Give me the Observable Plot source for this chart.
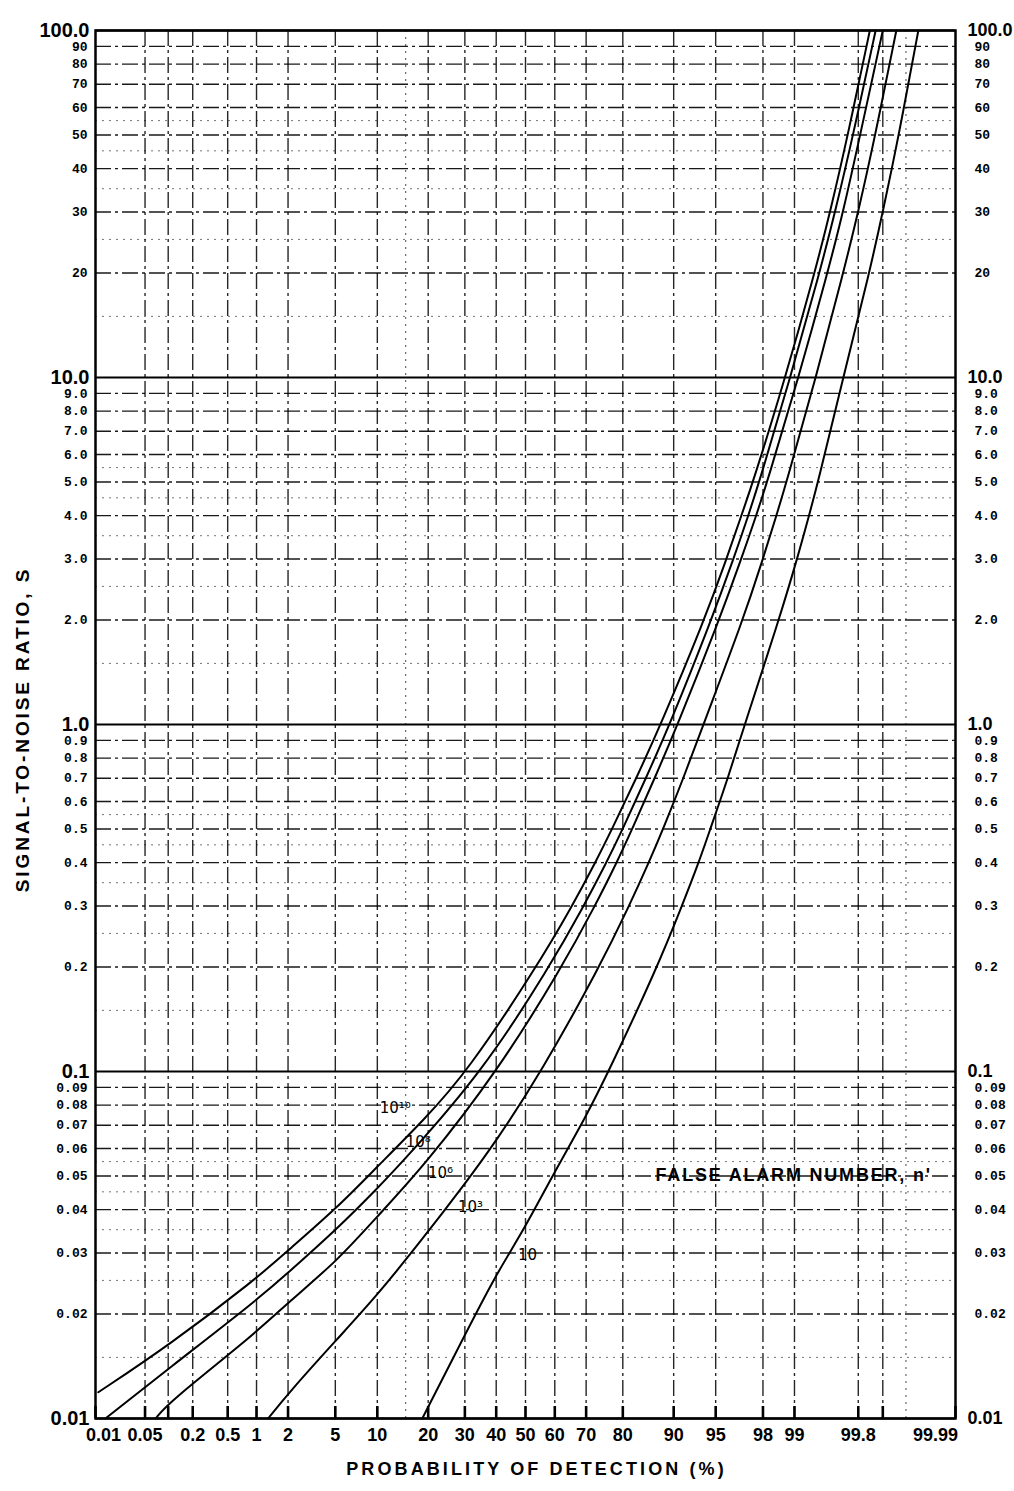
<!DOCTYPE html>
<html>
<head>
<meta charset="utf-8">
<script src="https://cdn.jsdelivr.net/npm/d3@7"></script>
<script src="https://cdn.jsdelivr.net/npm/@observablehq/plot@0.6"></script>
<style>
  html, body { margin: 0; padding: 0; background: #fff; }
  #chart svg { display: block; }
</style>
</head>
<body>
<div id="chart"></div>
<script>
// ---------------- DATA ----------------
// Curve: false alarm number n' = 10^10
const pd1e10 = [0.011, 0.10, 1.0, 2.0, 5.2, 9.7, 18.9, 30.8, 53.8, 65.7, 72.7, 77.3, 83.1, 87.9, 93.9, 95.9, 96.9, 97.55, 98.77, 99.38, 99.58, 99.735, 99.855];
const s1e10  = [0.0119, 0.0162, 0.0253, 0.0305, 0.0406, 0.0525, 0.0723, 0.1, 0.2, 0.3, 0.4, 0.5, 0.7, 1, 2, 3, 4, 5, 10, 20, 30, 50, 100];
// n' = 10^8
const pd1e8 = [0.014, 0.10, 1.0, 2.0, 5.2, 9.7, 15.0, 35.5, 58.2, 69.3, 75.8, 80.0, 85.1, 89.4, 94.6, 96.4, 97.3, 97.84, 98.90, 99.45, 99.63, 99.77, 99.877];
const s1e8  = [0.01, 0.0139, 0.0219, 0.0263, 0.0353, 0.0454, 0.0561, 0.1, 0.2, 0.3, 0.4, 0.5, 0.7, 1, 2, 3, 4, 5, 10, 20, 30, 50, 100];
// n' = 10^6
const pd1e6 = [0.069, 0.10, 1.0, 2.0, 5.2, 9.7, 18.9, 40.4, 62.4, 72.6, 78.5, 82.2, 86.8, 90.6, 95.3, 96.9, 97.7, 98.17, 99.09, 99.55, 99.70, 99.81, 99.90];
const s1e6  = [0.01, 0.0111, 0.0177, 0.0216, 0.0285, 0.0377, 0.0532, 0.1, 0.2, 0.3, 0.4, 0.5, 0.7, 1, 2, 3, 4, 5, 10, 20, 30, 50, 100];
// n' = 10^3
const pd1e3 = [1.3, 2.0, 5.2, 9.7, 18.9, 29.6, 39.7, 55.5, 73.9, 81.5, 85.7, 88.3, 91.4, 93.8, 97.0, 98.0, 98.50, 98.80, 99.40, 99.70, 99.80, 99.876, 99.933];
const s1e3  = [0.01, 0.0118, 0.0170, 0.0223, 0.0332, 0.0469, 0.0624, 0.1, 0.2, 0.3, 0.4, 0.5, 0.7, 1, 2, 3, 4, 5, 10, 20, 30, 50, 100];
// n' = 10
const pd10 = [18.6, 29.6, 39.7, 49.3, 59.6, 69.8, 76.4, 87.3, 91.2, 93.3, 94.5, 96.0, 97.1, 98.58, 99.06, 99.29, 99.43, 99.70, 99.853, 99.90, 99.938, 99.966];
const s10  = [0.01, 0.0171, 0.0258, 0.0348, 0.0508, 0.0737, 0.1, 0.2, 0.3, 0.4, 0.5, 0.7, 1, 2, 3, 4, 5, 10, 20, 30, 50, 100];

// Curve labels (n') and where they sit
const curveLabels = ["10\u00B9\u2070", "10\u2078", "10\u2076", "10\u00B3", "10"];
const curveLabelPd = [13.0, 17.7, 23.1, 31.7, 50.7];
const curveLabelS  = [0.0782, 0.0624, 0.0508, 0.0406, 0.0295];

const noteText = ["FALSE ALARM NUMBER, n'"];
const notePd = [86.97];
const noteS  = [0.0502];

// X axis (probability of detection, %)
const xTickPd     = [0.01, 0.05, 0.2, 0.5, 1, 2, 5, 10, 20, 30, 40, 50, 60, 70, 80, 90, 95, 98, 99, 99.8, 99.99];
const xTickLabels = ["0.01", "0.05", "0.2", "0.5", "1", "2", "5", "10", "20", "30", "40", "50", "60", "70", "80", "90", "95", "98", "99", "99.8", "99.99"];
const xExtraTickPd = [0.1, 99.9];
const xGridPd = [0.05, 0.1, 0.2, 0.5, 1, 2, 5, 10, 20, 30, 40, 50, 60, 70, 80, 90, 95, 98, 99, 99.8, 99.9];
const xFineGridPd = [15, 99.95];

// Y axis (signal-to-noise ratio, S)
const yMajorTicks  = [0.01, 0.1, 1, 10, 100];
const yMajorLabels = ["0.01", "0.1", "1.0", "10.0", "100.0"];
const yMinorTicks  = [0.02, 0.03, 0.04, 0.05, 0.06, 0.07, 0.08, 0.09,
                      0.2, 0.3, 0.4, 0.5, 0.6, 0.7, 0.8, 0.9,
                      2, 3, 4, 5, 6, 7, 8, 9,
                      20, 30, 40, 50, 60, 70, 80, 90];
const yMinorLabels = ["0.02", "0.03", "0.04", "0.05", "0.06", "0.07", "0.08", "0.09",
                      "0.2", "0.3", "0.4", "0.5", "0.6", "0.7", "0.8", "0.9",
                      "2.0", "3.0", "4.0", "5.0", "6.0", "7.0", "8.0", "9.0",
                      "20", "30", "40", "50", "60", "70", "80", "90"];
const yFineGrid = [0.015, 0.025, 0.035, 0.045, 0.055, 0.15, 0.25, 0.35, 0.45, 0.55, 1.5, 2.5, 3.5, 4.5, 5.5, 15, 25, 35, 45, 55];

const xTitle = "PROBABILITY OF DETECTION (%)";
const yTitle = "SIGNAL-TO-NOISE RATIO, S";

// ---------------- helpers ----------------
// inverse of the standard normal CDF (probability-paper axis)
function probit(p) {
  const a = [-3.969683028665376e+01, 2.209460984245205e+02, -2.759285104469687e+02, 1.383577518672690e+02, -3.066479806614716e+01, 2.506628277459239e+00];
  const b = [-5.447609879822406e+01, 1.615858368580409e+02, -1.556989798598866e+02, 6.680131188771972e+01, -1.328068155288572e+01];
  const c = [-7.784894002430293e-03, -3.223964580411365e-01, -2.400758277161838e+00, -2.549732539343734e+00, 4.374664141464968e+00, 2.938163982698783e+00];
  const d = [7.784695709041462e-03, 3.224671290700398e-01, 2.445134137142996e+00, 3.754408661907416e+00];
  const pl = 0.02425, ph = 1 - pl;
  let q, r;
  if (p < pl) {
    q = Math.sqrt(-2 * Math.log(p));
    return (((((c[0]*q+c[1])*q+c[2])*q+c[3])*q+c[4])*q+c[5]) / ((((d[0]*q+d[1])*q+d[2])*q+d[3])*q+1);
  }
  if (p > ph) {
    q = Math.sqrt(-2 * Math.log(1 - p));
    return -(((((c[0]*q+c[1])*q+c[2])*q+c[3])*q+c[4])*q+c[5]) / ((((d[0]*q+d[1])*q+d[2])*q+d[3])*q+1);
  }
  q = p - 0.5; r = q * q;
  return (((((a[0]*r+a[1])*r+a[2])*r+a[3])*r+a[4])*r+a[5])*q / (((((b[0]*r+b[1])*r+b[2])*r+b[3])*r+b[4])*r+1);
}
const zOf = pct => probit(pct / 100);

const series = [
  {n: "1e10", pd: pd1e10, s: s1e10},
  {n: "1e8",  pd: pd1e8,  s: s1e8},
  {n: "1e6",  pd: pd1e6,  s: s1e6},
  {n: "1e3",  pd: pd1e3,  s: s1e3},
  {n: "10",   pd: pd10,   s: s10}
];
const curveRows = series.flatMap(sr => sr.pd.map((p, i) => ({n: sr.n, pd: p, s: sr.s[i]})));

const xTickZ = xTickPd.map(zOf);
const xLabelMap = new Map(xTickZ.map((z, i) => [z, xTickLabels[i]]));
const xInnerZ = xTickZ.slice(1, -1);
const xFirstZ = xTickZ.slice(0, 1);
const xLastZ = xTickZ.slice(-1);
const yMajorMap = new Map(yMajorTicks.map((v, i) => [v, yMajorLabels[i]]));
const yMinorMap = new Map(yMinorTicks.map((v, i) => [v, yMinorLabels[i]]));

const labelRows = curveLabels.map((t, i) => ({t, pd: curveLabelPd[i], s: curveLabelS[i]}));
const noteRows = noteText.map((t, i) => ({t, pd: notePd[i], s: noteS[i]}));

const sansBold = "'Liberation Sans', Arial, sans-serif";
const mono = "'Liberation Mono', 'DejaVu Sans Mono', monospace";
const dashDot = "16,4,3,4";

const xLabelStyle = {anchor: "bottom", tickSize: 0, tickPadding: 10, label: null, tickFormat: z => xLabelMap.get(z), fontSize: 18, fontWeight: "bold", fontFamily: sansBold};

const chart = Plot.plot({
  width: 1014,
  height: 1491,
  marginLeft: 95,
  marginRight: 59,
  marginTop: 30,
  marginBottom: 73,
  style: {background: "#fff", color: "#000", fontFamily: sansBold},
  x: {type: "linear", domain: [zOf(0.01), zOf(99.99)], axis: null},
  y: {type: "log", domain: [0.01, 100], axis: null},
  marks: [
    // fine dotted grid
    Plot.gridY(yFineGrid, {stroke: "#000", strokeOpacity: 0.55, strokeWidth: 1, strokeDasharray: "2,5"}),
    Plot.gridX(xFineGridPd.map(zOf), {stroke: "#000", strokeOpacity: 0.6, strokeWidth: 1.2, strokeDasharray: "2,5"}),
    // main grid
    Plot.gridY(yMinorTicks, {stroke: "#000", strokeOpacity: 0.9, strokeWidth: 1.4, strokeDasharray: dashDot}),
    Plot.gridX(xGridPd.map(zOf), {stroke: "#000", strokeOpacity: 0.85, strokeWidth: 1.4, strokeDasharray: dashDot}),
    Plot.gridY(yMajorTicks, {stroke: "#000", strokeOpacity: 1, strokeWidth: 2}),
    Plot.frame({stroke: "#000", strokeWidth: 2.5}),
    // short upward tick marks on the bottom edge
    Plot.ruleX(xTickZ.concat(xExtraTickPd.map(zOf)), {stroke: "#000", strokeWidth: 2.6, insetTop: 1376}),
    // curves
    Plot.line(curveRows, {x: d => zOf(d.pd), y: "s", z: "n", stroke: "#000", strokeWidth: 2, curve: "basis"}),
    // curve labels
    Plot.text(labelRows, {x: d => zOf(d.pd), y: "s", text: "t", fontSize: 15, fontFamily: "'DejaVu Sans', sans-serif", fill: "#000"}),
    Plot.text(noteRows, {x: d => zOf(d.pd), y: "s", text: "t", textAnchor: "start", fontSize: 18, fontWeight: "bold", fill: "#000"}),
    // x axis labels
    Plot.axisX(xInnerZ, xLabelStyle),
    Plot.axisX(xFirstZ, {...xLabelStyle, dx: 8}),
    Plot.axisX(xLastZ, {...xLabelStyle, dx: -20}),
    // y axes, left
    Plot.axisY(yMajorTicks, {anchor: "left", tickSize: 0, tickPadding: 6, label: null, tickFormat: v => yMajorMap.get(v), fontSize: 20, fontWeight: "bold", fontFamily: sansBold}),
    Plot.axisY(yMinorTicks, {anchor: "left", tickSize: 0, tickPadding: 8, label: null, tickFormat: v => yMinorMap.get(v), fontSize: 13, fontWeight: "bold", fontFamily: mono}),
    // y axes, right
    Plot.axisY(yMajorTicks, {anchor: "right", tickSize: 0, tickPadding: 12, label: null, tickFormat: v => yMajorMap.get(v), fontSize: 18, fontWeight: "bold", fontFamily: sansBold}),
    Plot.axisY(yMinorTicks, {anchor: "right", tickSize: 0, tickPadding: 19, label: null, tickFormat: v => yMinorMap.get(v), fontSize: 13, fontWeight: "bold", fontFamily: mono}),
    // titles
    Plot.text([xTitle], {frameAnchor: "bottom", dy: 56, dx: 11, fontSize: 18, fontWeight: "bold", fill: "#000"}),
    Plot.text([yTitle], {frameAnchor: "left", dx: -73, dy: 5, rotate: -90, textAnchor: "middle", fontSize: 19, fontWeight: "bold", fill: "#000"})
  ]
});

document.getElementById("chart").appendChild(chart);

// letter spacing tweaks (styling only), matched on the text content
const spacing = new Map([[xTitle, "3.1px"], [yTitle, "2.9px"], [noteText[0], "1.8px"]]);
d3.select(chart).selectAll("text").each(function () {
  const ls = spacing.get(this.textContent);
  if (ls) this.setAttribute("letter-spacing", ls);
});
</script>
</body>
</html>
